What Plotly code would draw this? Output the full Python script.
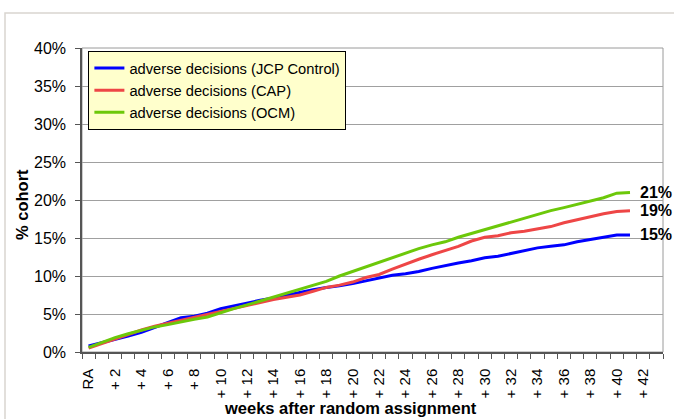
import plotly.graph_objects as go

# Weekly cumulative share of the cohort with an adverse decision (%)
weeks = list(range(0, 42))
jcp_control = [0.8, 1.2, 1.6, 2.1, 2.6, 3.2, 3.8, 4.5, 4.7, 5.1,
               5.7, 6.1, 6.5, 6.8, 7.1, 7.5, 7.8, 8.2, 8.5, 8.7,
               9.0, 9.4, 9.8, 10.1, 10.3, 10.6, 11.0, 11.4, 11.7, 12.0,
               12.4, 12.6, 13.0, 13.4, 13.7, 13.9, 14.1, 14.5, 14.8, 15.1,
               15.4, 15.4]
cap = [0.5, 1.1, 1.8, 2.4, 2.9, 3.4, 3.8, 4.2, 4.5, 4.9,
       5.3, 5.8, 6.2, 6.6, 6.9, 7.2, 7.5, 8.0, 8.5, 8.8,
       9.2, 9.8, 10.2, 10.9, 11.6, 12.2, 12.8, 13.3, 13.9, 14.6,
       15.1, 15.3, 15.7, 15.9, 16.2, 16.5, 17.0, 17.4, 17.9, 18.2,
       18.5, 18.6]
ocm = [0.6, 1.3, 1.9, 2.4, 2.9, 3.3, 3.6, 4.0, 4.3, 4.6,
       5.2, 5.7, 6.2, 6.7, 7.2, 7.7, 8.3, 8.8, 9.3, 10.0,
       10.6, 11.3, 11.8, 12.4, 13.1, 13.6, 14.1, 14.5, 15.1, 15.6,
       16.1, 16.6, 17.1, 17.6, 18.2, 18.6, 19.0, 19.4, 19.9, 20.3,
       20.9, 21.0]

n_categories = 44  # RA, + 1 ... + 43
tick_positions = list(range(0, n_categories, 2))
tick_labels = ["RA" if w == 0 else f"+ {w}" for w in tick_positions]
y_ticks = list(range(0, 41, 5))
y_tick_labels = [f"{v}%" for v in y_ticks]

series = [
    ("adverse decisions (JCP Control)", jcp_control, "#0000FF"),
    ("adverse decisions (CAP)", cap, "#EE4646"),
    ("adverse decisions (OCM)", ocm, "#6CC80A"),
]

FONT = "Arial, Liberation Sans, sans-serif"

fig = go.Figure()
for name, vals, color in series:
    fig.add_trace(go.Scatter(
        x=weeks, y=vals, name=name, mode="lines",
        line=dict(color=color, width=3),
    ))

# end-of-line value labels
annotations = []
for name, vals, color in series:
    annotations.append(dict(
        x=weeks[-1], y=vals[-1], xref="x", yref="y",
        text=f"<b>{round(vals[-1])}%</b>", showarrow=False,
        xanchor="left", yanchor="middle", xshift=8,
        font=dict(family=FONT, size=16, color="black"),
    ))

# axis titles
annotations.append(dict(
    x=350, y=408, xref="paper", yref="paper", text="<b>weeks after random assignment</b>",
    showarrow=False, font=dict(family=FONT, size=16.5, color="black"),
))
annotations.append(dict(
    x=22, y=205, xref="paper", yref="paper", text="<b>% cohort</b>", textangle=-90,
    showarrow=False, font=dict(family=FONT, size=16.5, color="black"),
))

# convert pixel-placed title annotations to paper coordinates
W, H = 674, 419
ML, MR, MT, MB = 82, 11, 48, 67
pw, ph = W - ML - MR, H - MT - MB
for a in annotations[-2:]:
    a["x"] = (a["x"] - ML) / pw
    a["y"] = (H - MB - a["y"]) / ph
    a["xanchor"] = "center"
    a["yanchor"] = "middle"

shapes = [
    # chart area frame
    dict(type="rect", xref="paper", yref="paper",
         x0=(5 - ML) / pw, x1=1.2, y0=-0.4, y1=(H - MB - 13) / ph,
         line=dict(color="#D9D5D0", width=1.5), layer="below"),
    # plot area frame
    dict(type="rect", xref="paper", yref="paper", x0=0, x1=1, y0=0, y1=1,
         line=dict(color="#9A9A9A", width=1), layer="below"),
]

fig.update_layout(
    width=W, height=H,
    margin=dict(l=ML, r=MR, t=MT, b=MB, pad=0),
    paper_bgcolor="white", plot_bgcolor="white",
    font=dict(family=FONT, color="black"),
    showlegend=True,
    legend=dict(
        x=0.011, y=0.99, xanchor="left", yanchor="top",
        bgcolor="#FFFFCC", bordercolor="black", borderwidth=1,
        font=dict(family=FONT, size=14.7, color="black"),
        tracegroupgap=0,
    ),
    annotations=annotations,
    shapes=shapes,
    xaxis=dict(
        range=[-0.5, n_categories - 0.5],
        tickmode="array", tickvals=tick_positions, ticktext=tick_labels,
        tickangle=-90, tickfont=dict(family=FONT, size=15, color="black"),
        ticks="outside", ticklen=5, tickcolor="rgba(0,0,0,0)",
        ticklabelstandoff=4,
        minor=dict(ticks="outside", tick0=-0.5, dtick=1, ticklen=5,
                   tickcolor="#555555", showgrid=False),
        showgrid=False, zeroline=False,
        showline=True, linecolor="#555555", linewidth=1.5,
    ),
    yaxis=dict(
        range=[0, 40],
        tickmode="array", tickvals=y_ticks, ticktext=y_tick_labels,
        tickfont=dict(family=FONT, size=16, color="black"),
        ticks="outside", ticklen=5, tickcolor="#555555",
        ticklabelstandoff=6,
        showgrid=True, gridcolor="#A0A0A0", gridwidth=1,
        zeroline=False,
        showline=True, linecolor="#555555", linewidth=1.5,
    ),
)

fig.write_html("out.html")
